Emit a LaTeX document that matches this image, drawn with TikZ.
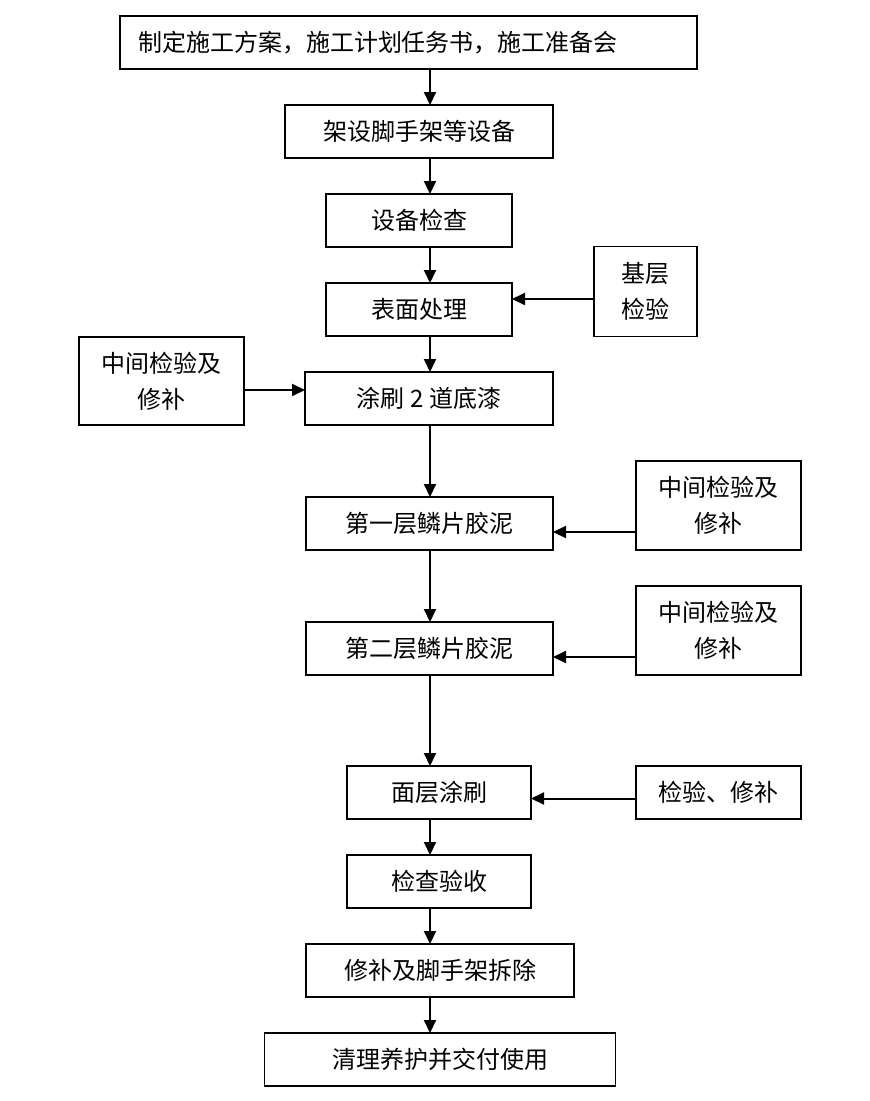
\documentclass[tikz,border=0pt]{standalone}
\usepackage{fontspec}
\setmainfont{Noto Sans CJK SC}
\usetikzlibrary{arrows.meta, positioning, calc}

\begin{document}
\begin{tikzpicture}[
    node distance=36pt and 82pt,
    every node/.style={font=\fontsize{24pt}{36pt}\selectfont},
    proc/.style={draw,line width=1.5pt,minimum height=53pt,
                 inner sep=0pt,outer sep=0pt,align=center},
    side/.style={draw,line width=1.5pt,minimum width=165pt,
                 inner sep=0pt,outer sep=0pt,align=center},
    arr/.style={-{Triangle[length=13pt,width=12pt]},line width=2pt}
]
\useasboundingbox (0,0) rectangle (870pt,-1101pt);
\coordinate (spine) at (430pt,0);
\node[proc,minimum width=577pt,text width=541pt,align=left] (plan) at (408.5pt,-42.5pt)
     {制定施工方案，施工计划任务书，施工准备会};
\node[proc,minimum width=268pt,below=of plan,xshift=10.5pt] (scaf)   {架设脚手架等设备};
\node[proc,minimum width=186pt,below=of scaf]               (check)  {设备检查};
\node[proc,minimum width=186pt,below=of check]              (surf)   {表面处理};
\node[side,minimum width=103pt,minimum height=90pt,right=82pt of surf,yshift=18pt]
     (base) {基层\\检验};
\node[proc,minimum width=248pt,below=of surf,xshift=10pt]   (primer) {涂刷 2 道底漆};
\node[side,minimum height=88pt,left=61pt of primer,yshift=17.5pt] (chka) {中间检验及\\修补};
\node[proc,minimum width=247pt,below=72pt of primer,xshift=0.5pt] (layera) {第一层鳞片胶泥};
\node[side,minimum height=89pt,right=83pt of layera,yshift=18pt] (chkb) {中间检验及\\修补};
\node[proc,minimum width=247pt,below=72pt of layera]        (layerb) {第二层鳞片胶泥};
\node[side,minimum height=89pt,right=83pt of layerb,yshift=18pt] (chkc) {中间检验及\\修补};
\node[proc,minimum width=184pt,below=91pt of layerb,xshift=9.5pt] (coat) {面层涂刷};
\node[side,minimum height=53pt,right=105pt of coat]         (chkd)   {检验、修补};
\node[proc,minimum width=184pt,below=of coat]               (accept) {检查验收};
\node[proc,minimum width=268pt,below=of accept,xshift=1pt]  (repair) {修补及脚手架拆除};
\node[proc,minimum width=351pt,below=of repair]             (clean)  {清理养护并交付使用};
% main line
\draw[arr] (plan.south -| spine)   -- (scaf.north -| spine);
\draw[arr] (scaf.south -| spine)   -- (check.north -| spine);
\draw[arr] (check.south -| spine)  -- (surf.north -| spine);
\draw[arr] (surf.south -| spine)   -- (primer.north -| spine);
\draw[arr] (primer.south -| spine) -- (layera.north -| spine);
\draw[arr] (layera.south -| spine) -- (layerb.north -| spine);
\draw[arr] (layerb.south -| spine) -- (coat.north -| spine);
\draw[arr] (coat.south -| spine)   -- (accept.north -| spine);
\draw[arr] (accept.south -| spine) -- (repair.north -| spine);
\draw[arr] (repair.south -| spine) -- (clean.north -| spine);
% checks
\draw[arr] ($(base.west |- surf.east)+(0,10.5pt)$) -- ($(surf.east)+(0,10.5pt)$);
\draw[arr] ($(chka.east |- primer.west)+(0,8.5pt)$) -- ($(primer.west)+(0,8.5pt)$);
\draw[arr] ($(chkb.west |- layera.east)+(0,-8.5pt)$) -- ($(layera.east)+(0,-8.5pt)$);
\draw[arr] ($(chkc.west |- layerb.east)+(0,-8.5pt)$) -- ($(layerb.east)+(0,-8.5pt)$);
\draw[arr] ($(chkd.west |- coat.east)+(0,-6pt)$) -- ($(coat.east)+(0,-6pt)$);
\end{tikzpicture}
\end{document}
